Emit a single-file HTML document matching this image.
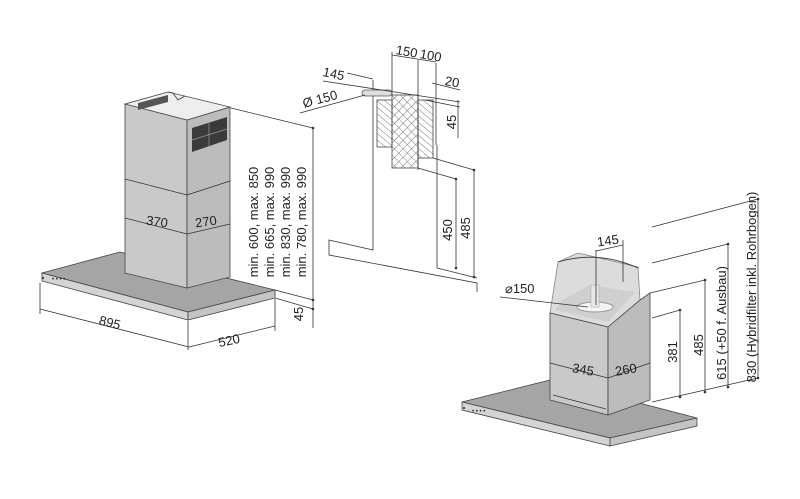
<!DOCTYPE html>
<html><head><meta charset="utf-8"><style>
html,body{margin:0;padding:0;background:#fff;}
svg{display:block;font-family:"Liberation Sans",sans-serif;}
text{fill:#222;font-size:13px;}
.l{stroke:#333;stroke-width:0.8;fill:none;}
</style></head><body>
<svg width="800" height="499" viewBox="0 0 800 499" xmlns="http://www.w3.org/2000/svg">
<defs>
<pattern id="h" width="5" height="5" patternUnits="userSpaceOnUse" patternTransform="rotate(-50)"><line x1="0" y1="0" x2="0" y2="5" stroke="#555" stroke-width="0.8"/></pattern>
<pattern id="x" width="6" height="6" patternUnits="userSpaceOnUse" patternTransform="rotate(45)"><path d="M0 0V6M0 0H6" stroke="#555" stroke-width="0.8"/></pattern>
</defs>

<!-- LEFT HOOD -->
<polygon points="42,273 120,252 275,290 188,312" fill="#a5a5a5" stroke="#444" stroke-width="0.8"/>
<polygon points="42,273 188,312 188,320 42,281" fill="#d4d4d4" stroke="#444" stroke-width="0.8"/>
<polygon points="188,312 275,290 275,298 188,320" fill="#c4c4c4" stroke="#444" stroke-width="0.8"/>
<circle cx="43" cy="278" r="1" fill="#222"/>
<text x="52" y="281" style="font-size:6px">• • • •</text>
<polygon points="125,104 187,120 187,288 125,273" fill="#c9c9c9" stroke="#444" stroke-width="0.8"/>
<polygon points="187,120 230,107 230,277 187,288" fill="#bcbcbc" stroke="#444" stroke-width="0.8"/>
<polygon points="125,104 168,92 230,107 187,120" fill="#eee" stroke="#444" stroke-width="0.8"/>
<polygon points="138,103 168,95 168,102 138,110" fill="#555"/>
<polyline points="168,92 173,93 178,100 185,96" class="l"/>
<polygon points="192,128 227,117 227,140 192,152" fill="#3a3a3a"/>
<line x1="192" y1="140" x2="227" y2="129" stroke="#999" stroke-width="0.7"/>
<line x1="209" y1="123" x2="209" y2="146" stroke="#999" stroke-width="0.7"/>
<line x1="125" y1="179" x2="187" y2="195" class="l"/><line x1="187" y1="195" x2="230" y2="181" class="l"/>
<line x1="125" y1="218" x2="187" y2="234" class="l"/><line x1="187" y1="234" x2="230" y2="224" class="l"/>
<text x="157" y="226" text-anchor="middle" transform="rotate(8 157 222)">370</text>
<text x="206" y="226" text-anchor="middle" transform="rotate(-8 206 222)">270</text>

<!-- left dims -->
<line x1="40" y1="283" x2="40" y2="314" class="l"/><line x1="188" y1="321" x2="188" y2="350" class="l"/>
<line x1="40" y1="309" x2="189" y2="347" class="l"/>
<line x1="275" y1="299" x2="275" y2="331" class="l"/><line x1="189" y1="347" x2="275" y2="326" class="l"/>
<text x="110" y="327" text-anchor="middle" transform="rotate(14 110 322)">895</text>
<text x="229" y="345" text-anchor="middle" transform="rotate(-12 229 340)">520</text>
<line x1="231" y1="108" x2="313" y2="128" class="l"/>
<line x1="275" y1="290" x2="313" y2="300" class="l"/>
<line x1="275" y1="298" x2="313" y2="309" class="l"/>
<line x1="313" y1="128" x2="313" y2="328" class="l"/>
<circle cx="313" cy="128" r="1.3" fill="#333"/><circle cx="313" cy="300" r="1.3" fill="#333"/><circle cx="313" cy="309" r="1.3" fill="#333"/>
<text x="307" y="318" text-anchor="middle" transform="rotate(-90 303 318)">45</text>
<g style="font-size:12.5px">
<text transform="translate(258,222) rotate(-90)" text-anchor="middle">min. 600, max. 850</text>
<text transform="translate(274,222) rotate(-90)" text-anchor="middle">min. 665, max. 990</text>
<text transform="translate(290,222) rotate(-90)" text-anchor="middle">min. 830, max. 990</text>
<text transform="translate(306,222) rotate(-90)" text-anchor="middle">min. 780, max. 990</text>
</g>

<!-- MIDDLE -->
<polyline points="373,80 373,250 329,240 329,255 477,283 477,292" class="l"/>
<polyline points="437,145 437,268 477,278" class="l"/>
<rect x="377" y="100" width="15" height="47" fill="url(#h)" stroke="#444" stroke-width="0.8"/>
<rect x="418" y="100" width="15" height="58" fill="url(#h)" stroke="#444" stroke-width="0.8"/>
<rect x="392" y="95" width="26" height="73" fill="url(#x)" stroke="#444" stroke-width="0.8"/>
<rect x="362" y="90" width="30" height="6" rx="3" fill="#ddd" stroke="#555" stroke-width="0.8"/>
<line x1="323" y1="81" x2="460" y2="102" class="l"/>
<line x1="347" y1="73" x2="373" y2="79" class="l"/>
<line x1="300" y1="113" x2="365" y2="95" class="l"/>
<text x="303" y="108" transform="rotate(-15 303 104)">Ø 150</text>
<text x="323" y="76" transform="rotate(12 323 72)">145</text>
<line x1="392" y1="52" x2="392" y2="95" class="l"/><line x1="418" y1="60" x2="418" y2="170" class="l"/><line x1="436" y1="63" x2="436" y2="145" class="l"/>
<line x1="392" y1="55" x2="436" y2="62" class="l"/>
<text x="396" y="54" transform="rotate(10 396 50)">150</text>
<text x="420" y="58" transform="rotate(10 420 54)">100</text>
<line x1="432" y1="83" x2="460" y2="90" class="l"/>
<text x="445" y="85" transform="rotate(10 445 81)">20</text>
<line x1="425" y1="100" x2="460" y2="107" class="l"/>
<line x1="458" y1="100" x2="458" y2="138" class="l"/>
<text transform="translate(456,122) rotate(-90)" text-anchor="middle">45</text>
<line x1="418" y1="168" x2="456" y2="179" class="l"/><line x1="433" y1="158" x2="474" y2="170" class="l"/>
<line x1="456" y1="179" x2="456" y2="268" class="l"/><line x1="474" y1="170" x2="474" y2="277" class="l"/>
<circle cx="456" cy="179" r="1.3" fill="#333"/><circle cx="474" cy="170" r="1.3" fill="#333"/><circle cx="456" cy="268" r="1.3" fill="#333"/><circle cx="474" cy="277" r="1.3" fill="#333"/>
<text transform="translate(452,230) rotate(-90)" text-anchor="middle">450</text>
<text transform="translate(470,228) rotate(-90)" text-anchor="middle">485</text>

<!-- RIGHT HOOD -->
<polygon points="462,402 550,380 697,418 610,438" fill="#a5a5a5" stroke="#444" stroke-width="0.8"/>
<polygon points="462,402 610,438 610,446 462,410" fill="#d4d4d4" stroke="#444" stroke-width="0.8"/>
<polygon points="610,438 697,418 697,426 610,446" fill="#c4c4c4" stroke="#444" stroke-width="0.8"/>
<circle cx="464" cy="408" r="1" fill="#222"/>
<text x="472" y="413" style="font-size:6px">• • • •</text>
<polygon points="558,262 578,253 638,267 640,300 608,327 550,313" fill="#dcdcdc" stroke="#888" stroke-width="0.8"/>
<polygon points="562,300 590,285 635,292 608,322 555,310" fill="#cfcfcf"/>
<path d="M558,262 Q598,250 638,268" class="l"/>
<ellipse cx="595" cy="307" rx="18" ry="5" fill="#f4f4f4" stroke="#999"/>
<rect x="591" y="285" width="8" height="22" fill="#e8e8e8" stroke="#aaa" stroke-width="0.6"/>
<polygon points="550,313 608,327 608,415 550,400" fill="#c9c9c9" stroke="#444" stroke-width="0.8"/>
<polygon points="608,327 640,300 650,293 650,400 608,415" fill="#bcbcbc" stroke="#444" stroke-width="0.8"/>
<line x1="550" y1="363" x2="608" y2="378" class="l"/><line x1="608" y1="378" x2="650" y2="363" class="l"/>
<line x1="553" y1="395" x2="606" y2="409" class="l"/>
<text x="583" y="374" text-anchor="middle" transform="rotate(10 583 370)">345</text>
<text x="626" y="374" text-anchor="middle" transform="rotate(-10 626 370)">260</text>
<line x1="596" y1="250" x2="596" y2="305" class="l"/><line x1="623" y1="240" x2="623" y2="282" class="l"/>
<line x1="596" y1="251" x2="623" y2="245" class="l"/>
<text x="608" y="245" text-anchor="middle" transform="rotate(-8 608 241)">145</text>
<line x1="500" y1="297" x2="588" y2="307" class="l"/>
<text x="505" y="293">⌀150</text>
<line x1="652" y1="227" x2="758" y2="199" class="l"/>
<line x1="652" y1="263" x2="728" y2="244" class="l"/>
<line x1="650" y1="293" x2="705" y2="280" class="l"/>
<line x1="652" y1="318" x2="680" y2="310" class="l"/>
<line x1="652" y1="402" x2="758" y2="378" class="l"/>
<line x1="680" y1="310" x2="680" y2="398" class="l"/><line x1="705" y1="280" x2="705" y2="392" class="l"/>
<line x1="728" y1="244" x2="728" y2="387" class="l"/><line x1="758" y1="199" x2="758" y2="378" class="l"/>
<g fill="#333"><circle cx="680" cy="310" r="1.3"/><circle cx="680" cy="397" r="1.3"/><circle cx="705" cy="280" r="1.3"/><circle cx="705" cy="392" r="1.3"/><circle cx="728" cy="244" r="1.3"/><circle cx="728" cy="387" r="1.3"/><circle cx="758" cy="199" r="1.3"/><circle cx="758" cy="378" r="1.3"/></g>
<g style="font-size:12.5px">
<text transform="translate(677,352) rotate(-90)" text-anchor="middle">381</text>
<text transform="translate(703,345) rotate(-90)" text-anchor="middle">485</text>
<text transform="translate(726,323) rotate(-90)" text-anchor="middle">615 (+50 f. Ausbau)</text>
<text transform="translate(756,287) rotate(-90)" text-anchor="middle">830 (Hybridfilter inkl. Rohrbogen)</text>
</g>
</svg>
</body></html>
